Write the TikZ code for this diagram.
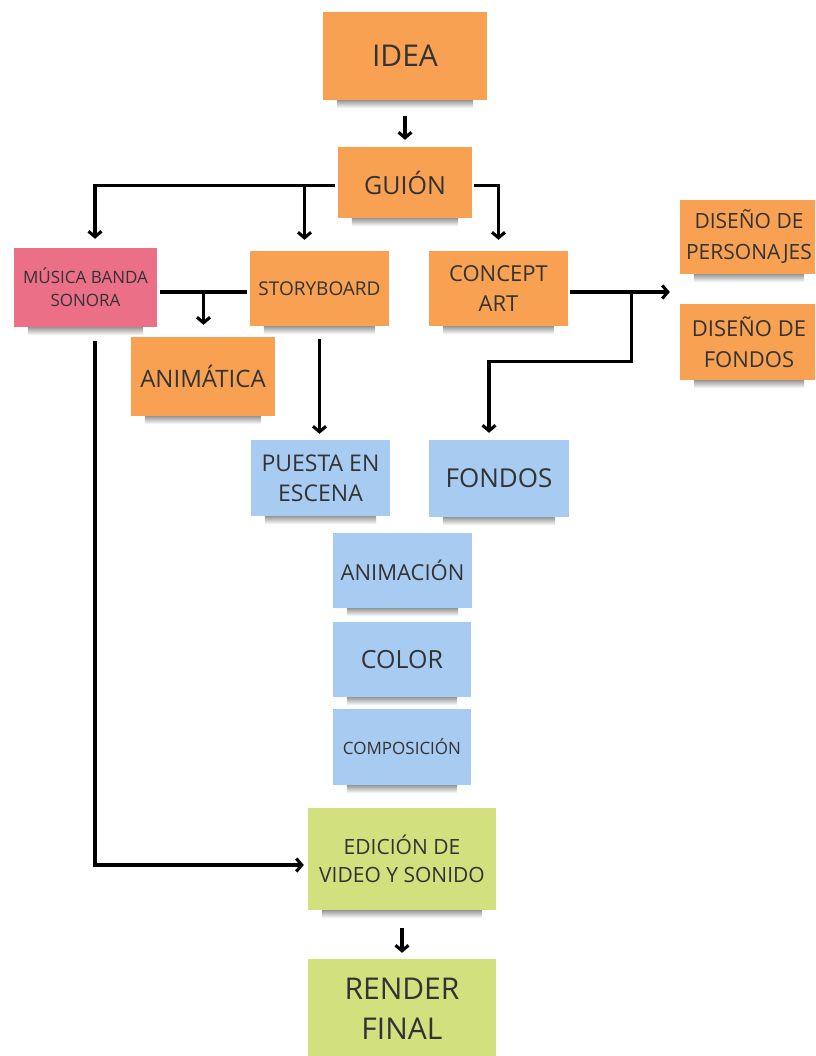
\documentclass[tikz,border=0pt]{standalone}
\usepackage{fontspec}
\setmainfont{Open Sans}
\usetikzlibrary{arrows.meta,calc}
\definecolor{org}{HTML}{F8A152}
\definecolor{pnk}{HTML}{EC6F88}
\definecolor{blu}{HTML}{A8CBF2}
\definecolor{grn}{HTML}{D3E07E}
\definecolor{txt}{HTML}{333333}
\newcommand\fs[2]{\fontsize{#1pt}{#2pt}\selectfont}
\begin{document}
\begin{tikzpicture}[x=1pt,y=1pt,
  note/.style={fill=#1, inner sep=0pt, align=center, text=txt},
  ln/.style={line width=3.1pt, line join=miter, black},
  arr/.style={ln, -{Straight Barb[length=5.5pt,width=13pt]}}]
\useasboundingbox (0,0) rectangle (815,-1056);
\clip (0,0) rectangle (815,-1056);
\fill[white] (0,0) rectangle (815,-1056);

% nodes
\node[note=org, minimum width=164pt, minimum height=88pt, font=\fs{30}{41}] (idea) at (405,-56) {IDEA};
\node[note=org, minimum width=134pt, minimum height=71pt, font=\fs{25}{34}] (guion) at (405,-182.5) {GUIÓN};
\node[note=pnk, minimum width=143pt, minimum height=79pt, font=\fs{17}{23}] (musica) at (85.5,-287.5) {MÚSICA BANDA\\SONORA};
\node[note=org, minimum width=139pt, minimum height=75pt, font=\fs{19}{26}] (story) at (319.5,-288.5) {STORYBOARD};
\node[note=org, minimum width=139pt, minimum height=75pt, font=\fs{22}{30}] (concept) at (498.5,-288.5) {CONCEPT\\ART};
\node[note=org, minimum width=138pt, minimum height=74pt, font=\fs{21}{31}] (pers) at (749,-237) {DISEÑO DE\\PERSONAJES};
\node[note=org, minimum width=138pt, minimum height=76pt, font=\fs{22}{31}] (dfondos) at (749,-342) {DISEÑO DE\\FONDOS};
\node[note=org, minimum width=144pt, minimum height=79pt, font=\fs{24}{32}] (animatica) at (203,-376.5) {ANIMÁTICA};
\node[note=blu, minimum width=139pt, minimum height=76pt, font=\fs{23}{30}] (puesta) at (320.5,-478) {PUESTA EN\\ESCENA};
\node[note=blu, minimum width=140pt, minimum height=77pt, font=\fs{26}{34}] (fondos) at (499,-478.5) {FONDOS};
\node[note=blu, minimum width=139pt, minimum height=75pt, font=\fs{22}{28}] (animacion) at (402.5,-570.5) {ANIMACIÓN};
\node[note=blu, minimum width=138pt, minimum height=75pt, font=\fs{25}{32}] (color) at (402,-659.5) {COLOR};
\node[note=blu, minimum width=138pt, minimum height=76pt, font=\fs{17}{23}] (compos) at (402,-747) {COMPOSICIÓN};
\node[note=grn, minimum width=188pt, minimum height=102pt, font=\fs{21}{28}] (edicion) at (402,-859) {EDICIÓN DE\\VIDEO Y SONIDO};
\node[note=grn, minimum width=188pt, minimum height=100pt, font=\fs{30}{40}] (render) at (402,-1009) {RENDER\\FINAL};

% shadows
\foreach \n in {idea,guion,musica,story,concept,pers,dfondos,animatica,puesta,fondos,animacion,color,compos,edicion,render}
  \shade[top color=black!40, bottom color=white] ($(\n.south west)+(14,0)$) rectangle ($(\n.south east)+(-14,-8)$);

% connectors
\draw[arr, shorten <=16pt, shorten >=7pt] (idea) -- (guion);
\coordinate (gl) at ($(guion.west)+(-3,-3)$);
\draw[arr, shorten >=9pt] (gl) -| ($(musica.north)+(9.5,0)$);
\draw[arr, shorten >=11pt] (gl) -| ($(story.north)+(-15,0)$);
\draw[arr, shorten >=11pt] ($(guion.east)+(2,-3)$) -| (concept.north);

\draw[ln] ($(musica.east)+(3,-4.5)$) -- ($(story.west)+(-3,-3.5)$);
\coordinate (ms) at ($(musica.east)!0.5!(story.west)+(0,-4)$);
\draw[arr, shorten >=12pt] (ms) -- (ms |- animatica.north);

\draw[arr, shorten <=13pt, shorten >=6pt] (story.south) -- (story.south |- puesta.north);

\coordinate (ce) at ($(concept.east)+(2,-3.5)$);
\draw[arr, shorten >=10pt] (ce) -- (ce -| pers.west);
\coordinate (br) at ($(ce)!0.56!(ce -| dfondos.west)$);
\coordinate (fk) at ($(fondos.north)+(-10,0)$);
\draw[arr, shorten >=7pt] (br) |- ($(fk)+(0,78)$) -- (fk);

\coordinate (ms2) at ($(musica.south)+(9.5,-14)$);
\draw[arr, shorten >=4pt] (ms2) |- ($(edicion.west)+(0,-6)$);

\draw[arr, shorten <=18pt, shorten >=6pt] (edicion.south) -- (edicion.south |- render.north);
\end{tikzpicture}
\end{document}
